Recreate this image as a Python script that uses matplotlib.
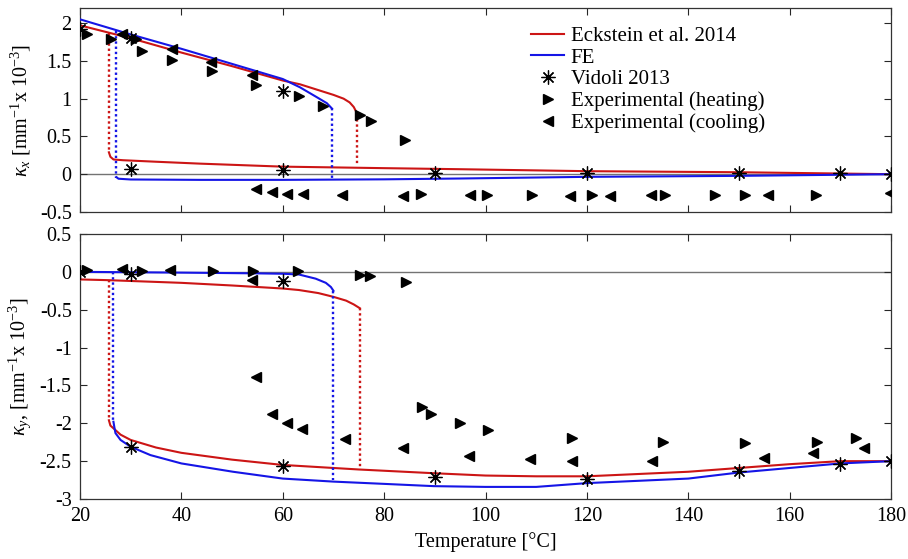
import matplotlib; matplotlib.use("Agg")
import matplotlib.pyplot as plt

plt.rcParams["font.family"] = ["Liberation Serif", "DejaVu Serif"]
plt.rcParams["mathtext.fontset"] = "custom"
plt.rcParams["mathtext.rm"] = "Liberation Serif"
plt.rcParams["mathtext.it"] = "Liberation Serif:italic"

RED, BLUE = "#cc1515", "#1515e6"

# ---- top panel: kappa_x ----
ek_x_up_T = [20, 30, 40, 50, 60, 63.4, 66.7, 70, 72.0, 73.2, 74.0, 74.7]
ek_x_up   = [1.97, 1.80, 1.61, 1.43, 1.24, 1.19, 1.12, 1.05, 1.00, 0.95, 0.89, 0.80]
ek_x_lo_T = [25.7, 26.0, 26.6, 28.5, 35, 43.6, 60, 80, 95, 120, 150, 180]
ek_x_lo   = [0.29, 0.23, 0.195, 0.185, 0.165, 0.14, 0.10, 0.08, 0.066, 0.04, 0.026, 0.0]
ek_x_jump_T = [25.7, 74.7]
ek_x_jump_hi = [1.87, 0.80]
ek_x_jump_lo = [0.29, 0.12]

fe_x_up_T = [20, 30, 40, 50, 60, 63.4, 66.7, 68.7, 69.7]
fe_x_up   = [2.05, 1.85, 1.66, 1.46, 1.26, 1.15, 1.02, 0.94, 0.87]
fe_x_lo_T = [27.2, 27.6, 30, 43.7, 60, 80, 95, 120, 150, 180]
fe_x_lo   = [-0.04, -0.06, -0.07, -0.075, -0.075, -0.068, -0.057, -0.035, -0.022, 0.0]
fe_x_jump_T = [27.2, 69.7]
fe_x_jump_hi = [1.90, 0.87]
fe_x_jump_lo = [-0.05, -0.07]

vid_T  = [20, 30, 30, 60, 60, 90, 120, 150, 170, 180]
vid_x  = [1.92, 1.80, 0.075, 1.10, 0.05, 0.02, 0.02, 0.02, 0.02, 0.0]

heat_x_T = [21.3, 26.2, 31.0, 32.3, 38.1, 46.0, 54.7, 63.2, 68.0, 75.2, 77.4, 84.1,
            87.3, 100.2, 109.1, 121.1, 135.4, 145.3, 151.2, 165.2]
heat_x   = [1.86, 1.79, 1.79, 1.63, 1.51, 1.36, 1.18, 1.03, 0.90, 0.78, 0.71, 0.45,
            -0.26, -0.28, -0.28, -0.28, -0.28, -0.28, -0.28, -0.28]
cool_x_T = [28.3, 38.1, 45.8, 53.9, 54.8, 57.8, 60.9, 64.0, 71.6, 83.8, 96.9, 116.6,
            124.5, 132.7, 155.8, 179.8]
cool_x   = [1.86, 1.66, 1.48, 1.31, -0.20, -0.23, -0.26, -0.26, -0.27, -0.29, -0.28,
            -0.29, -0.29, -0.28, -0.28, -0.25]

# ---- bottom panel: kappa_y ----
ek_y_up_T = [20, 25.7, 40, 50, 60, 63.2, 67, 70, 72.5, 74.0, 75.2]
ek_y_up   = [-0.10, -0.11, -0.145, -0.18, -0.22, -0.24, -0.28, -0.33, -0.38, -0.43, -0.48]
ek_y_lo_T = [25.7, 26.0, 27.0, 28, 30, 35, 40, 50, 60, 75, 90, 100, 110, 120, 130,
             140, 150, 160, 170, 180]
ek_y_lo   = [-1.96, -2.03, -2.09, -2.15, -2.22, -2.32, -2.39, -2.48, -2.55, -2.61,
             -2.66, -2.69, -2.70, -2.70, -2.67, -2.64, -2.59, -2.54, -2.50, -2.50]
ek_y_jump_T = [25.7, 75.2]
ek_y_jump_hi = [-0.11, -0.48]
ek_y_jump_lo = [-1.96, -2.58]

fe_y_up_T = [20, 40, 55, 60, 63.2, 66.5, 68.5, 69.5, 70.0]
fe_y_up   = [0.0, -0.01, -0.02, -0.025, -0.035, -0.09, -0.145, -0.20, -0.25]
fe_y_lo_T = [26.6, 26.8, 27.0, 28.0, 30, 33.9, 40, 50.2, 60, 70, 80, 89.8, 100,
             110, 116, 120, 130, 140, 150, 160, 170, 180]
fe_y_lo   = [-1.98, -2.06, -2.13, -2.22, -2.31, -2.42, -2.53, -2.64, -2.73, -2.77,
             -2.80, -2.83, -2.84, -2.84, -2.81, -2.79, -2.76, -2.73, -2.65, -2.59,
             -2.53, -2.50]
fe_y_jump_T = [26.6, 70.0]
fe_y_jump_hi = [0.0, -0.25]
fe_y_jump_lo = [-1.98, -2.75]

vid_y = [0.0, -0.03, -2.31, -0.12, -2.56, -2.71, -2.74, -2.63, -2.54, -2.50]

heat_y_T = [21.3, 32.2, 46.2, 54.1, 63.1, 75.2, 77.2, 84.3, 87.4, 89.2, 95.0, 100.4,
            117.0, 135.0, 151.2, 165.3, 173.0]
heat_y   = [0.02, 0.01, 0.01, 0.01, 0.01, -0.04, -0.06, -0.14, -1.79, -1.88, -2.00,
            -2.09, -2.19, -2.25, -2.26, -2.25, -2.20]
cool_y_T = [28.2, 37.8, 53.9, 54.8, 57.8, 60.9, 63.7, 72.3, 83.8, 96.8, 108.8, 117.0,
            132.8, 154.9, 164.6, 174.7]
cool_y   = [0.035, 0.02, -0.11, -1.39, -1.88, -2.00, -2.08, -2.21, -2.33, -2.43, -2.47,
            -2.50, -2.50, -2.46, -2.39, -2.32]

fig = plt.figure(figsize=(9.08, 5.59), dpi=100)
ax1 = fig.add_axes([0.0881, 0.6208, 0.8932, 0.3649])
ax2 = fig.add_axes([0.0881, 0.1073, 0.8932, 0.4741])

LW = 1.5
DOT = (0, (1.0, 1.2))
mk = dict(color="k", linestyle="none")
star = (8, 2, 0)

def panel(ax, up_T, up, lo_T, lo, jT, jhi, jlo, fup_T, fup, flo_T, flo, fjT, fjhi, fjlo,
          vy, hT, h, cT, c):
    ax.axhline(0, color="0.45", lw=1.0, zorder=1)
    ax.plot(up_T, up, color=RED, lw=LW, label="Eckstein et al. 2014", zorder=3)
    ax.plot(lo_T, lo, color=RED, lw=LW, zorder=3)
    for t, a, b in zip(jT, jhi, jlo):
        ax.plot([t, t], [a, b], color=RED, lw=1.7, linestyle=DOT, zorder=3)
    ax.plot(fup_T, fup, color=BLUE, lw=LW, label="FE", zorder=3)
    ax.plot(flo_T, flo, color=BLUE, lw=LW, zorder=3)
    for t, a, b in zip(fjT, fjhi, fjlo):
        ax.plot([t, t], [a, b], color=BLUE, lw=1.7, linestyle=DOT, zorder=3)
    ax.plot(vid_T, vy, marker=star, markersize=10, mew=0.9, label="Vidoli 2013",
            zorder=4, **mk)
    ax.plot(hT, h, marker=">", markersize=7.5, label="Experimental (heating)",
            zorder=4, **mk)
    ax.plot(cT, c, marker="<", markersize=7.5, label="Experimental (cooling)",
            zorder=4, **mk)
    ax.set_xlim(20, 180)
    ax.set_xticks(range(20, 181, 20))
    ax.tick_params(direction="in", top=True, right=True, length=5, width=0.8,
                   labelsize=14.5, pad=6, colors="0.15", labelcolor="k")
    for s in ax.spines.values():
        s.set_color("0.2")
        s.set_linewidth(0.9)

panel(ax1, ek_x_up_T, ek_x_up, ek_x_lo_T, ek_x_lo, ek_x_jump_T, ek_x_jump_hi, ek_x_jump_lo,
      fe_x_up_T, fe_x_up, fe_x_lo_T, fe_x_lo, fe_x_jump_T, fe_x_jump_hi, fe_x_jump_lo,
      vid_x, heat_x_T, heat_x, cool_x_T, cool_x)
panel(ax2, ek_y_up_T, ek_y_up, ek_y_lo_T, ek_y_lo, ek_y_jump_T, ek_y_jump_hi, ek_y_jump_lo,
      fe_y_up_T, fe_y_up, fe_y_lo_T, fe_y_lo, fe_y_jump_T, fe_y_jump_hi, fe_y_jump_lo,
      vid_y, heat_y_T, heat_y, cool_y_T, cool_y)

ax1.set_ylim(-0.5, 2.2)
ax1.set_yticks([-0.5, 0, 0.5, 1, 1.5, 2])
ax1.set_yticklabels(["-0.5", "0", "0.5", "1", "1.5", "2"])
ax1.tick_params(labelbottom=False)
ax2.set_ylim(-3, 0.5)
ax2.set_yticks([-3, -2.5, -2, -1.5, -1, -0.5, 0, 0.5])
ax2.set_yticklabels(["-3", "-2.5", "-2", "-1.5", "-1", "-0.5", "0", "0.5"])

ax1.set_ylabel("$\\mathit{κ_x}$ [mm$^{-1}$x 10$^{-3}$]", fontsize=14.5)
ax2.set_ylabel("$\\mathit{κ_y}$, [mm$^{-1}$x 10$^{-3}$]", fontsize=14.5)
ax1.yaxis.set_label_coords(-0.058, 0.5)
ax2.yaxis.set_label_coords(-0.058, 0.5)
ax2.set_xlabel("Temperature [°C]", fontsize=14.5, labelpad=4)

ax1.legend(loc="upper left", bbox_to_anchor=(0.556, 0.91), frameon=False, fontsize=15,
           borderpad=0, borderaxespad=0, handlelength=1.6, handletextpad=0.3,
           labelspacing=0.1)

fig.savefig("out.png", dpi=100)
